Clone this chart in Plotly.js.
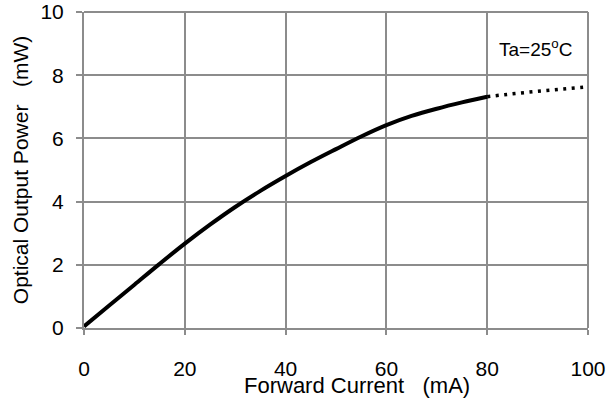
<!DOCTYPE html>
<html>
<head>
<meta charset="utf-8">
<script src="https://cdn.plot.ly/plotly-3.0.1.min.js"></script>
<style>html,body{margin:0;padding:0;background:#fff;}#chart{width:616px;height:401px;}</style>
</head>
<body>
<div id="chart"></div>
<script>
// Measured curve (solid) and extrapolated part (dotted)
const currentSolid = [0, 5, 10, 15, 20, 25, 30, 35, 40, 45, 50, 55, 60, 65, 70, 75, 80];
const powerSolid   = [0.05, 0.71, 1.37, 2.03, 2.67, 3.27, 3.83, 4.34, 4.81, 5.25, 5.66, 6.06, 6.42, 6.71, 6.94, 7.14, 7.32];
const currentDotted = [80, 85, 90, 95, 100];
const powerDotted   = [7.32, 7.41, 7.49, 7.56, 7.63];
const xTicks = [0, 20, 40, 60, 80, 100];
const yTicks = [0, 2, 4, 6, 8, 10];

const font = "Liberation Sans, Arial, sans-serif";
const grid = "#8c8c8c";
const nb = "&nbsp;";

const traces = [
  {x: currentSolid, y: powerSolid, mode: "lines", line: {color: "#000", width: 4, shape: "spline", smoothing: 1}, hoverinfo: "skip"},
  {x: currentDotted, y: powerDotted, mode: "lines", line: {color: "#000", width: 3.5, dash: "3px,5.5px", shape: "spline"}, hoverinfo: "skip"}
];

const layout = {
  width: 616, height: 401,
  margin: {l: 84, r: 28, t: 12, b: 73},
  paper_bgcolor: "#fff", plot_bgcolor: "#fff",
  showlegend: false,
  font: {family: font, size: 21, color: "#000"},
  xaxis: {
    range: [0, 100], tickvals: xTicks, ticktext: xTicks.map(String),
    showgrid: true, gridcolor: grid, gridwidth: 2,
    showline: true, linecolor: grid, linewidth: 2, mirror: false,
    ticks: "outside", ticklen: 5, tickcolor: grid, tickwidth: 2,
    ticklabelstandoff: 16, zeroline: false,
    tickfont: {family: font, size: 21}
  },
  yaxis: {
    range: [0, 10], tickvals: yTicks, ticktext: yTicks.map(String),
    showgrid: true, gridcolor: grid, gridwidth: 2,
    showline: true, linecolor: grid, linewidth: 2, mirror: false,
    ticks: "outside", ticklen: 6, tickcolor: grid, tickwidth: 2,
    ticklabelstandoff: 8, zeroline: false,
    tickfont: {family: font, size: 21},
    title: {text: "Optical" + nb + "Output" + nb + "Power" + nb + nb + nb + "(mW)", font: {family: font, size: 21}, standoff: 6}
  },
  shapes: [
    {type: "line", xref: "paper", yref: "paper", x0: 1, x1: 1, y0: 0, y1: 1, line: {color: grid, width: 2}},
    {type: "line", xref: "paper", yref: "paper", x0: 0, x1: 1, y0: 1, y1: 1, line: {color: grid, width: 2}}
  ],
  annotations: [
    {x: 89.5, y: 8.85, xref: "x", yref: "y", text: "Ta=25<sup>o</sup>C", showarrow: false,
     font: {family: font, size: 19, color: "#000"}, xanchor: "center", yanchor: "middle"},
    {x: 357, y: 385, xref: "paper", yref: "paper", text: "Forward" + nb + "Current" + nb + nb + nb + "(mA)", showarrow: false,
     font: {family: font, size: 22, color: "#000"}, xanchor: "center", yanchor: "middle"}
  ]
};
// convert the x-title pixel position to paper coordinates
const a = layout.annotations[1];
a.x = (a.x - layout.margin.l) / (616 - layout.margin.l - layout.margin.r);
a.y = -(a.y - (401 - layout.margin.b)) / (401 - layout.margin.t - layout.margin.b);

Plotly.newPlot("chart", traces, layout, {staticPlot: true, displayModeBar: false});
</script>
</body>
</html>
